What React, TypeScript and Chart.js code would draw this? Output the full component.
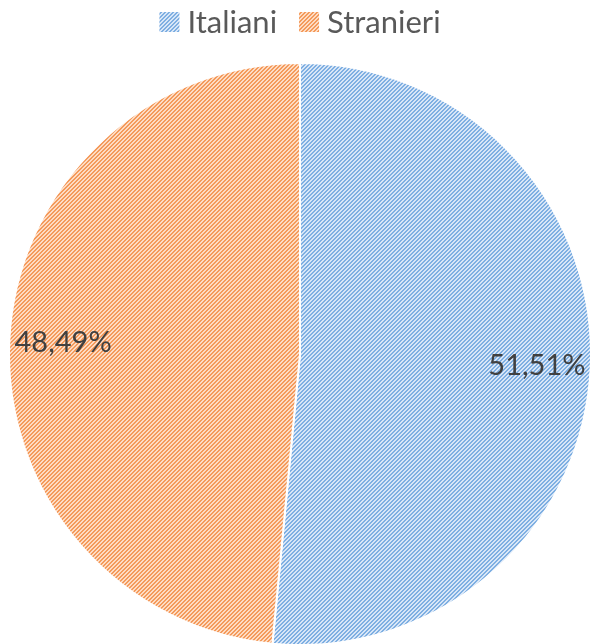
import React, { useEffect, useRef } from "react";
import { Chart, registerables } from "chart.js";

Chart.register(...registerables);

const categories = ["Italiani", "Stranieri"];
const values = [51.51, 48.49];
const valueLabels = ["51,51%", "48,49%"];
const stripeColors = ["#7eafe2", "#f49a5b"];
const backColors = ["#d8e6f7", "#fddcc4"];

function makePattern(stripe: string, back: string): CanvasPattern | string {
  const c = document.createElement("canvas");
  c.width = 8;
  c.height = 8;
  const ctx = c.getContext("2d");
  if (!ctx) return stripe;
  ctx.fillStyle = back;
  ctx.fillRect(0, 0, 8, 8);
  ctx.fillStyle = stripe;
  for (let y = 0; y < 8; y++) {
    for (let x = 0; x < 8; x++) {
      const m = (x + y) % 4;
      if (m === 0 || m === 1) ctx.fillRect(x, y, 1, 1);
    }
  }
  const p = ctx.createPattern(c, "repeat");
  return p || stripe;
}

const FONT = "Lato, 'Open Sans', sans-serif";

const legendPlugin = {
  id: "customLegend",
  afterDraw(chart: any) {
    const ctx = chart.ctx as CanvasRenderingContext2D;
    const ds = chart.data.datasets[0];
    ctx.save();
    ctx.font = `31px ${FONT}`;
    ctx.textBaseline = "alphabetic";
    const box = 20;
    const gapBoxText = 8;
    const gapItems = 22;
    const widths = categories.map((c) => ctx.measureText(c).width);
    let total = 0;
    widths.forEach((w, i) => {
      total += box + gapBoxText + w + (i < widths.length - 1 ? gapItems : 0);
    });
    let x = 300 - total / 2;
    const yBox = 12;
    categories.forEach((c, i) => {
      ctx.fillStyle = ds.backgroundColor[i];
      ctx.fillRect(x, yBox, box, box);
      ctx.fillStyle = "#595959";
      ctx.fillText(c, x + box + gapBoxText, 33);
      x += box + gapBoxText + widths[i] + gapItems;
    });
    ctx.restore();
  },
};

const valueLabelPlugin = {
  id: "valueLabels",
  afterDatasetsDraw(chart: any) {
    const ctx = chart.ctx as CanvasRenderingContext2D;
    const meta = chart.getDatasetMeta(0);
    ctx.save();
    ctx.font = `29px ${FONT}`;
    ctx.fillStyle = "#404040";
    ctx.textAlign = "center";
    ctx.textBaseline = "middle";
    meta.data.forEach((arc: any, i: number) => {
      const { x, y, startAngle, endAngle, outerRadius } = arc.getProps(
        ["x", "y", "startAngle", "endAngle", "outerRadius"],
        true
      );
      const mid = (startAngle + endAngle) / 2;
      const r = outerRadius * 0.815;
      ctx.fillText(valueLabels[i], x + Math.cos(mid) * r, y + Math.sin(mid) * r);
    });
    ctx.restore();
  },
};

export default function App() {
  const ref = useRef<HTMLCanvasElement | null>(null);
  useEffect(() => {
    if (!ref.current) return;
    const patterns = categories.map((_, i) => makePattern(stripeColors[i], backColors[i]));
    const chart = new Chart(ref.current, {
      type: "pie",
      data: {
        labels: categories,
        datasets: [
          {
            data: values,
            backgroundColor: patterns as any,
            borderColor: "#ffffff",
            borderWidth: 2,
          },
        ],
      },
      options: {
        animation: false,
        responsive: false,
        maintainAspectRatio: false,
        layout: { padding: { top: 62, left: 8, right: 0, bottom: 14 } },
        plugins: {
          legend: { display: false },
          tooltip: { enabled: false },
        },
      },
      plugins: [legendPlugin, valueLabelPlugin],
    });
    return () => chart.destroy();
  }, []);
  return (
    <div style={{ position: "absolute", top: 0, left: 0, width: 592, height: 644, overflow: "hidden", background: "#fff" }}>
      <canvas ref={ref} width={592} height={660} style={{ display: "block", width: 592, height: 660 }} />
    </div>
  );
}
